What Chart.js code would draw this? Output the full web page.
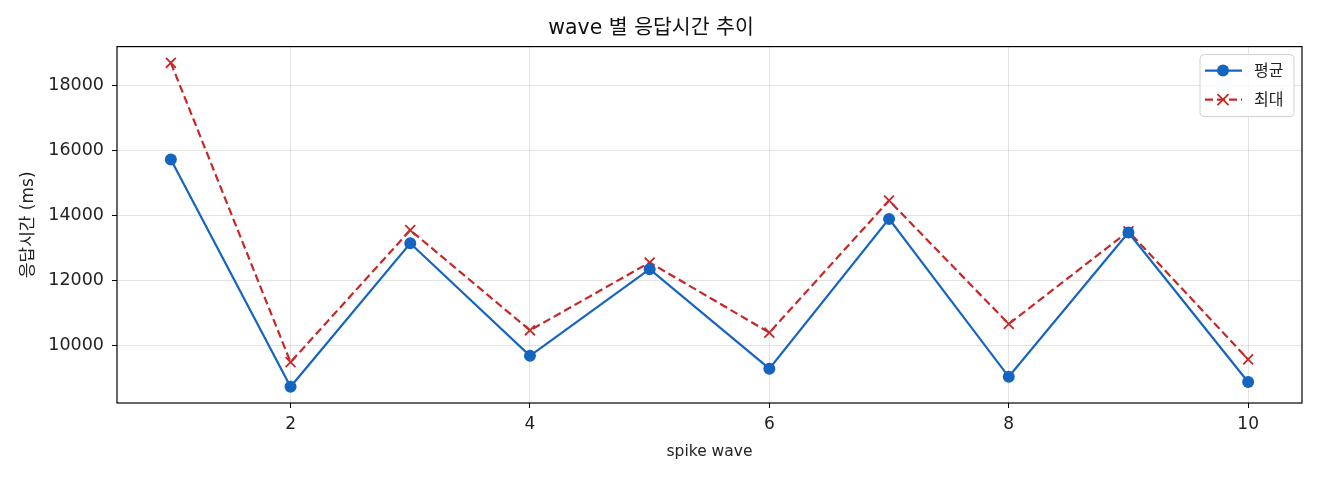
<!DOCTYPE html>
<html>
<head>
<meta charset="utf-8">
<script src="https://cdn.jsdelivr.net/npm/chart.js@4.4.1/dist/chart.umd.min.js"></script>
<style>
    html, body { margin: 0; padding: 0; background: #fff; }
    #wrap { width: 1320px; height: 480px; }
</style>
</head>
<body>
<div id="wrap"><canvas id="chart"></canvas></div>
<script>
'use strict';

// ===== データ =====
const waves   = [1, 2, 3, 4, 5, 6, 7, 8, 9, 10];
const avgMs   = [15732, 8743, 13157, 9694, 12359, 9300, 13905, 9050, 13489, 8890];
const maxMs   = [18705, 9500, 13560, 10480, 12565, 10410, 14470, 10674, 13525, 9585];
const xTicks  = [2, 4, 6, 8, 10];
const yTicks  = [10000, 12000, 14000, 16000, 18000];

const FONT = '"DejaVu Sans", "Noto Sans CJK KR", sans-serif';
const BLUE = '#1565c0';
const RED  = '#c62828';

// matplotlib 風の 5% マージン
const allVals = avgMs.concat(maxMs);
const yLo = Math.min(...allVals), yHi = Math.max(...allVals);
const yPad = (yHi - yLo) * 0.05;
const xPad = (waves[waves.length - 1] - waves[0]) * 0.05;

// ===== 枠線 + 凡例（プロット内右上） =====
const frameLegend = {
    id: 'frameLegend',
    afterDraw(chart) {
        const { ctx, chartArea: a } = chart;
        ctx.save();
        ctx.strokeStyle = '#000';
        ctx.lineWidth = 1.2;
        ctx.strokeRect(a.left, a.top, a.right - a.left, a.bottom - a.top);

        const bx = a.right - 102, by = a.top + 8, bw = 94, bh = 62;
        ctx.fillStyle = 'rgba(255,255,255,0.8)';
        ctx.strokeStyle = '#d0d0d0';
        ctx.lineWidth = 1;
        ctx.beginPath();
        ctx.roundRect(bx, by, bw, bh, 4);
        ctx.fill();
        ctx.stroke();

        chart.data.datasets.forEach((ds, i) => {
            const y = by + 16 + i * 29;
            ctx.strokeStyle = ds.borderColor;
            ctx.lineWidth = 2.2;
            ctx.setLineDash(ds.borderDash || []);
            ctx.beginPath();
            ctx.moveTo(bx + 5, y);
            ctx.lineTo(bx + 42, y);
            ctx.stroke();
            ctx.setLineDash([]);
            const mx = bx + 23;
            if (ds.pointStyle === 'circle') {
                ctx.fillStyle = ds.borderColor;
                ctx.beginPath();
                ctx.arc(mx, y, 6, 0, Math.PI * 2);
                ctx.fill();
            } else {
                ctx.lineWidth = 1.8;
                ctx.beginPath();
                ctx.moveTo(mx - 5.5, y - 5.5); ctx.lineTo(mx + 5.5, y + 5.5);
                ctx.moveTo(mx + 5.5, y - 5.5); ctx.lineTo(mx - 5.5, y + 5.5);
                ctx.stroke();
            }
            ctx.fillStyle = '#222';
            ctx.font = `16px ${FONT}`;
            ctx.textBaseline = 'middle';
            ctx.fillText(ds.label, bx + 54, y + 1);
        });
        ctx.restore();
    },
};

const toXY = vals => vals.map((v, i) => ({ x: waves[i], y: v }));

new Chart(document.getElementById('chart'), {
    type: 'line',
    data: {
        datasets: [
            {
                label: '평균',
                data: toXY(avgMs),
                borderColor: BLUE,
                backgroundColor: BLUE,
                borderWidth: 2.2,
                pointStyle: 'circle',
                pointRadius: 6,
                pointBorderWidth: 0,
                tension: 0,
            },
            {
                label: '최대',
                data: toXY(maxMs),
                borderColor: RED,
                backgroundColor: RED,
                borderWidth: 2.2,
                borderDash: [8, 4],
                pointStyle: 'crossRot',
                pointRadius: 7,
                pointBorderWidth: 1.8,
                tension: 0,
            },
        ],
    },
    options: {
        responsive: true,
        maintainAspectRatio: false,
        animation: false,
        layout: { padding: { left: 0, right: 18, top: 0, bottom: 0 } },
        plugins: {
            legend: { display: false },
            tooltip: { enabled: false },
            title: {
                display: true,
                text: 'wave 별 응답시간 추이',
                color: '#111',
                font: { family: FONT, size: 20.5, weight: 'normal' },
                padding: { top: 16, bottom: 6 },
            },
        },
        scales: {
            x: {
                type: 'linear',
                min: waves[0] - xPad,
                max: waves[waves.length - 1] + xPad,
                afterBuildTicks: s => { s.ticks = xTicks.map(v => ({ value: v })); },
                afterFit: s => { s.height = 77; },
                ticks: { color: '#222', font: { family: FONT, size: 17 }, padding: 6, callback: v => String(v) },
                grid: { color: 'rgba(0,0,0,0.11)', tickColor: '#000', tickLength: 5 },
                border: { display: false },
                title: {
                    display: true,
                    text: 'spike wave',
                    color: '#222',
                    font: { family: FONT, size: 15.5 },
                    padding: { top: 0, bottom: 19 },
                },
            },
            y: {
                min: yLo - yPad,
                max: yHi + yPad,
                afterBuildTicks: s => { s.ticks = yTicks.map(v => ({ value: v })); },
                afterFit: s => { s.width = 117; },
                ticks: { color: '#222', font: { family: FONT, size: 17.5 }, padding: 8, callback: v => String(v) },
                grid: { color: 'rgba(0,0,0,0.11)', tickColor: '#000', tickLength: 5 },
                border: { display: false },
                title: {
                    display: true,
                    text: '응답시간 (ms)',
                    color: '#222',
                    font: { family: FONT, size: 17 },
                    padding: { top: 18, bottom: 0 },
                },
            },
        },
    },
    plugins: [frameLegend],
});
</script>
</body>
</html>
